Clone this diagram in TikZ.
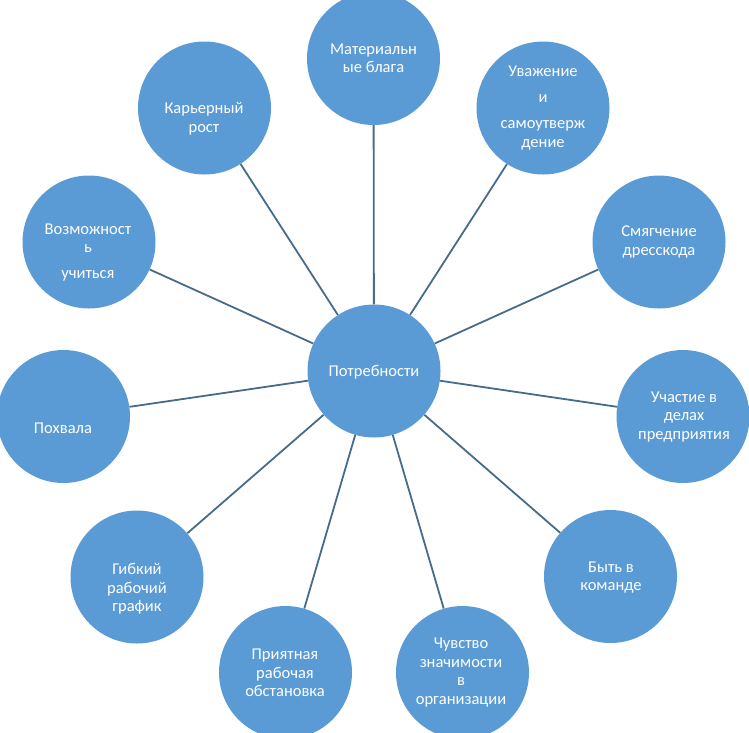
\documentclass[tikz,border=0pt]{standalone}
\usepackage{fontspec}
\setmainfont{Carlito}
\definecolor{bubblefill}{RGB}{91,155,213}
\definecolor{linecol}{RGB}{70,108,140}
\begin{document}
\begin{tikzpicture}[x=1pt,y=-1pt,
  bubble/.style={circle,fill=bubblefill,draw=none,minimum size=133pt,inner sep=0pt},
  txt/.style={text=white,align=center,font=\fontsize{16.5pt}{18.5pt}\selectfont,inner sep=0pt},
  conn/.style={draw=linecol,line width=1.8pt}]
\useasboundingbox (0,0) rectangle (749,732);
\node[bubble] (c) at (374,371) {};
\node[bubble] (mat) at (373.5,58.5) {};
\node[bubble] (uv) at (543,108) {};
\node[bubble] (sm) at (659,242) {};
\node[bubble] (uch) at (683,416.5) {};
\node[bubble] (byt) at (610.5,576.5) {};
\node[bubble] (chu) at (462.5,672.5) {};
\node[bubble] (pri) at (285.5,672.5) {};
\node[bubble] (gib) at (137,577) {};
\node[bubble] (poh) at (63.5,416.5) {};
\node[bubble] (voz) at (89,242) {};
\node[bubble] (kar) at (204.5,108) {};
\foreach \n in {mat,uv,sm,uch,byt,chu,pri,gib,poh,voz,kar}
  \draw[conn] (c) -- (\n);
\node[txt] (ct) at (374,372) {Потребности};
\node[txt] (matt) at (373.5,58.5) {Материальн\\ые блага};
\node[txt] (uvt) at (543,108) {Уважение\\[7.5pt]и\\[7.5pt]самоутверж\\дение};
\node[txt] (smt) at (659,242) {Смягчение\\дресскода};
\node[txt] (ucht) at (684,417) {Участие в\\делах\\предприятия};
\node[txt] (bytt) at (611,577.5) {Быть в\\команде};
\node[txt] (chut) at (461,672.5) {Чувство\\значимости\\в\\организации};
\node[txt] (prit) at (285,673) {Приятная\\рабочая\\обстановка};
\node[txt] (gibt) at (137,589) {Гибкий\\рабочий\\график};
\node[txt] (poht) at (63,428) {Похвала};
\node[txt] (vozt) at (88,252.5) {Возможност\\ь\\[7.5pt]учиться};
\node[txt] (kart) at (204,119) {Карьерный\\рост};
\end{tikzpicture}
\end{document}
